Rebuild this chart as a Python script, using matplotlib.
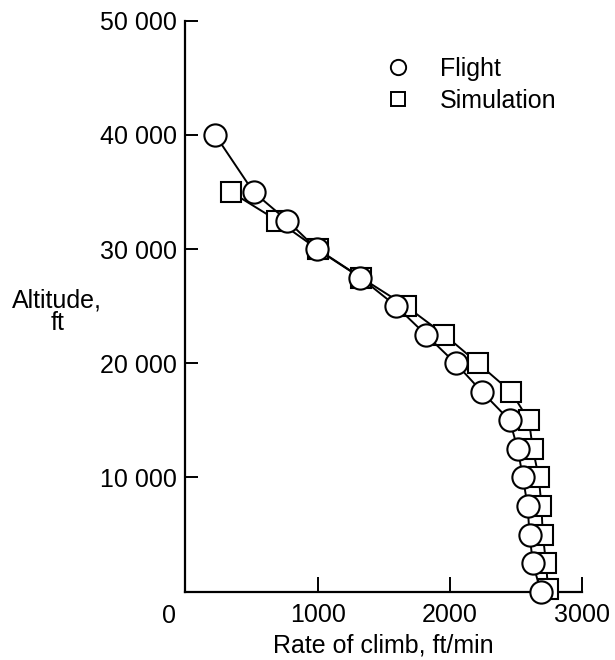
import matplotlib.pyplot as plt
from matplotlib.lines import Line2D
from matplotlib.transforms import ScaledTranslation

plt.rcParams["font.family"] = ["Liberation Sans", "DejaVu Sans"]

# flight test points: rate of climb (ft/min) vs altitude (ft)
flight_rate = [225, 515, 770, 995, 1325, 1595, 1820, 2045, 2245, 2455, 2515, 2555, 2590, 2605, 2630, 2690]
flight_alt = [40000, 35000, 32500, 30000, 27500, 25000, 22500, 20000, 17500, 15000, 12500, 10000, 7500, 5000, 2500, 0]

# simulation points
sim_rate = [345, 695, 1000, 1330, 1670, 1960, 2215, 2465, 2600, 2630, 2675, 2695, 2705, 2730, 2745]
sim_alt = [35000, 32500, 30000, 27500, 25000, 22500, 20000, 17500, 15000, 12500, 10000, 7500, 5000, 2500, 200]

x_ticks = [0, 1000, 2000, 3000]
y_ticks = [10000, 20000, 30000, 40000, 50000]
y_ticklabels = ["10 000", "20 000", "30 000", "40 000", "50 000"]

FS = 18

fig = plt.figure(figsize=(6.15, 6.6), dpi=100)
ax = fig.add_axes([0.3016, 0.1035, 0.6443, 0.8651])

ax.plot(sim_rate, sim_alt, color="black", lw=1.4, marker="s", ms=14,
        mfc="white", mec="black", mew=1.5, zorder=2, clip_on=False)
ax.plot(flight_rate, flight_alt, color="black", lw=1.4, marker="o", ms=16,
        mfc="white", mec="black", mew=1.5, zorder=3, clip_on=False)

ax.set_xlim(0, 3000)
ax.set_ylim(0, 50000)

for side in ("top", "right"):
    ax.spines[side].set_visible(False)
for side in ("left", "bottom"):
    ax.spines[side].set_linewidth(1.6)
    ax.spines[side].set_zorder(1)

ax.set_xticks(x_ticks)
ax.set_xticklabels([""] + [str(v) for v in x_ticks[1:]])
ax.set_yticks(y_ticks)
ax.set_yticklabels(y_ticklabels)
ax.tick_params(axis="both", direction="in", width=1.4, labelsize=FS)
ax.tick_params(axis="x", length=11, pad=8)
ax.tick_params(axis="y", length=9.5, pad=6)

# origin label sits a little left of the corner
ax.text(0, 0, "0", fontsize=FS, ha="center", va="top",
        transform=ax.transData + ScaledTranslation(-0.16, -0.12, fig.dpi_scale_trans))

ax.set_xlabel("Rate of climb, ft/min", fontsize=FS, labelpad=5)
ax.set_ylabel("Altitude,\nft", fontsize=FS, rotation=0, ha="center", va="center",
              linespacing=0.95)
ax.yaxis.set_label_coords(-0.324, 0.49)

handles = [
    Line2D([], [], ls="none", marker="o", ms=11, mfc="white", mec="black", mew=1.4),
    Line2D([], [], ls="none", marker="s", ms=10, mfc="white", mec="black", mew=1.4),
]
ax.legend(handles, ["Flight", "Simulation"], loc="upper left", frameon=False,
          fontsize=FS, handlelength=1.0, handletextpad=1.2, labelspacing=0.3,
          borderpad=0, borderaxespad=0,
          bbox_to_anchor=(385 / 615, 1 - 57 / 660), bbox_transform=fig.transFigure)

fig.savefig("out.png", dpi=100)
